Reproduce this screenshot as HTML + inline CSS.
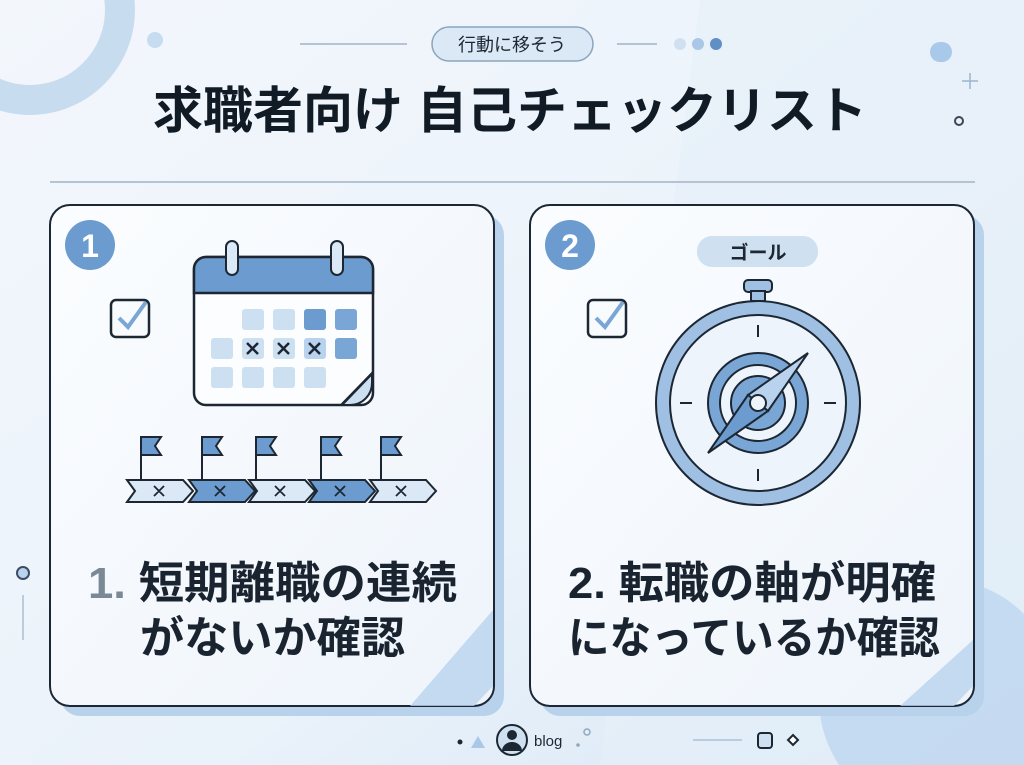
<!DOCTYPE html>
<html><head><meta charset="utf-8"><style>
html,body{margin:0;padding:0;width:1024px;height:765px;overflow:hidden}
svg{display:block}
svg text{font-family:"Liberation Sans","Noto Sans CJK JP",sans-serif}
</style></head><body>
<svg width="1024" height="765" viewBox="0 0 1024 765" xmlns="http://www.w3.org/2000/svg">
<defs>
<linearGradient id="bg" x1="0" y1="0" x2="1" y2="1"><stop offset="0" stop-color="#f3f7fc"/><stop offset="0.6" stop-color="#eaf2fa"/><stop offset="1" stop-color="#d6e6f5"/></linearGradient>
<linearGradient id="card" x1="0" y1="0" x2="1" y2="1"><stop offset="0" stop-color="#fbfdff"/><stop offset="1" stop-color="#eef4fb"/></linearGradient>
</defs>
<rect width="1024" height="765" fill="url(#bg)"/>
<polygon points="700,0 1024,0 1024,765 600,765" fill="#e6f0f9" opacity="0.6"/>
<path d="M134.5 0A105 105 0 0 1 0 110.6L0 78.7A75 75 0 0 0 104.3 0Z" fill="#c8dcf0"/>
<path d="M839 765A120 120 0 0 1 1024 614L1024 765Z" fill="#b9d3ee" opacity="0.7"/>
<circle cx="155" cy="40" r="8" fill="#c6dcf0"/>
<rect x="930" y="42" width="22" height="20" rx="10" fill="#a9c9ea"/>
<path d="M970 73v16M962 81h16" stroke="#9bb6d0" stroke-width="1.5"/>
<circle cx="959" cy="121" r="4" fill="none" stroke="#3a4756" stroke-width="2"/>
<line x1="300" y1="44" x2="407" y2="44" stroke="#9fb4c8" stroke-width="1.5"/>
<line x1="617" y1="44" x2="657" y2="44" stroke="#9fb4c8" stroke-width="1.5"/>
<rect x="432" y="27" width="161" height="34" rx="17" fill="#dbe8f5" stroke="#8aa5c0" stroke-width="1.5"/>
<text x="512" y="51" font-size="18" text-anchor="middle" fill="#1d2733">行動に移そう</text>
<circle cx="680" cy="44" r="6" fill="#cfe0f1"/><circle cx="698" cy="44" r="6" fill="#a9c7e6"/><circle cx="716" cy="44" r="6" fill="#5f8fc4"/>
<text x="510" y="128" font-size="50" font-weight="bold" text-anchor="middle" fill="#111b26">求職者向け 自己チェックリスト</text>
<line x1="50" y1="182" x2="975" y2="182" stroke="#b4c4d3" stroke-width="2"/>
<circle cx="23" cy="573" r="6" fill="#b9d3ee" stroke="#3a4d63" stroke-width="2"/>
<line x1="23" y1="595" x2="23" y2="640" stroke="#b9cde0" stroke-width="2"/>
<rect x="60" y="215" width="444" height="501" rx="20" fill="#b8d2ec"/>
<rect x="540" y="215" width="444" height="501" rx="20" fill="#b8d2ec"/>
<rect x="50" y="205" width="444" height="501" rx="20" fill="url(#card)" stroke="#1c2733" stroke-width="2"/>
<rect x="530" y="205" width="444" height="501" rx="20" fill="url(#card)" stroke="#1c2733" stroke-width="2"/>
<polygon points="493,610 493,686 474,706 410,706" fill="#b9d3ee" opacity="0.8"/>
<polygon points="973,640 973,686 954,706 900,706" fill="#b9d3ee" opacity="0.8"/>
<circle cx="90" cy="245" r="25" fill="#6c9ccf"/><text x="90" y="257" font-size="32" font-weight="bold" fill="#fff" text-anchor="middle">1</text>
<circle cx="570" cy="245" r="25" fill="#6c9ccf"/><text x="570" y="257" font-size="32" font-weight="bold" fill="#fff" text-anchor="middle">2</text>
<rect x="111" y="300" width="38" height="37" rx="5" fill="none" stroke="#1c2733" stroke-width="2.5"/>
<path d="M119 318l9 9 18-25" fill="none" stroke="#7aa6d6" stroke-width="4"/>
<rect x="588" y="300" width="38" height="37" rx="5" fill="none" stroke="#1c2733" stroke-width="2.5"/>
<path d="M596 318l9 9 18-25" fill="none" stroke="#7aa6d6" stroke-width="4"/>
<rect x="194" y="257" width="179" height="148" rx="12" fill="#fbfdff" stroke="#1c2733" stroke-width="2.5"/>
<path d="M194 293v-24a12 12 0 0 1 12-12h155a12 12 0 0 1 12 12v24z" fill="#6c9ccf" stroke="#1c2733" stroke-width="2.5"/>
<rect x="226" y="241" width="12" height="34" rx="6" fill="#dbe8f5" stroke="#1c2733" stroke-width="2"/>
<rect x="331" y="241" width="12" height="34" rx="6" fill="#dbe8f5" stroke="#1c2733" stroke-width="2"/>
<g>
<rect x="242" y="309" width="22" height="21" rx="3" fill="#cde0f2"/><rect x="273" y="309" width="22" height="21" rx="3" fill="#cde0f2"/><rect x="304" y="309" width="22" height="21" rx="3" fill="#6c9ccf"/><rect x="335" y="309" width="22" height="21" rx="3" fill="#7aa6d6"/>
<rect x="211" y="338" width="22" height="21" rx="3" fill="#cde0f2"/><rect x="242" y="338" width="22" height="21" rx="3" fill="#cde0f2"/><rect x="273" y="338" width="22" height="21" rx="3" fill="#cde0f2"/><rect x="304" y="338" width="22" height="21" rx="3" fill="#b9d3ee"/><rect x="335" y="338" width="22" height="21" rx="3" fill="#7aa6d6"/>
<rect x="211" y="367" width="22" height="21" rx="3" fill="#cde0f2"/><rect x="242" y="367" width="22" height="21" rx="3" fill="#cde0f2"/><rect x="273" y="367" width="22" height="21" rx="3" fill="#cde0f2"/><rect x="304" y="367" width="22" height="21" rx="3" fill="#cde0f2"/>
<path d="M247 343l11 11M258 343l-11 11M278 343l11 11M289 343l-11 11M309 343l11 11M320 343l-11 11" stroke="#1c2733" stroke-width="2.5"/>
</g>
<path d="M341 405l31-32v10a22 22 0 0 1-22 22z" fill="#cde0f2" stroke="#1c2733" stroke-width="2"/>
<line x1="343" y1="404" x2="371" y2="375" stroke="#1c2733" stroke-width="2"/>
<g stroke="#1c2733" stroke-width="2">
<g id="f"><line x1="141" y1="437" x2="141" y2="480"/><path d="M141 437h20l-6 9 6 9h-20z" fill="#6c9ccf"/></g>
<use href="#f" x="61"/><use href="#f" x="115"/><use href="#f" x="180"/><use href="#f" x="240"/>
<path d="M127 480h56l10 11-10 11h-56l8-11z" fill="#dbe8f5"/>
<path d="M189 480h56l10 11-10 11h-56l8-11z" fill="#6c9ccf"/>
<path d="M249 480h56l10 11-10 11h-56l8-11z" fill="#dbe8f5"/>
<path d="M309 480h56l10 11-10 11h-56l8-11z" fill="#6c9ccf"/>
<path d="M370 480h56l10 11-10 11h-56l8-11z" fill="#dbe8f5"/>
<path d="M154 486l10 10M164 486l-10 10M215 486l10 10M225 486l-10 10M275 486l10 10M285 486l-10 10M335 486l10 10M345 486l-10 10M396 486l10 10M406 486l-10 10" stroke-width="1.8"/>
</g>
<rect x="697" y="236" width="121" height="31" rx="15" fill="#cfe0f1"/>
<text x="758" y="259" font-size="19" font-weight="bold" text-anchor="middle" fill="#1d2733">ゴール</text>
<g stroke="#1c2733" stroke-width="2">
<rect x="744" y="280" width="28" height="12" rx="4" fill="#9fc0e3"/>
<rect x="751" y="291" width="14" height="10" fill="#9fc0e3"/>
<circle cx="758" cy="403" r="102" fill="#9fc0e3"/>
<circle cx="758" cy="403" r="88" fill="#eef4fb"/>
<circle cx="758" cy="403" r="50" fill="#7aa6d6"/>
<circle cx="758" cy="403" r="38" fill="#eef4fb"/>
<circle cx="758" cy="403" r="27" fill="#7aa6d6"/>
<path d="M758 325v12M758 469v12M680 403h12M824 403h12"/>
<path d="M808 353l-40 58-20-16z" fill="#b9d3ee"/>
<path d="M708 453l40-58 20 16z" fill="#6c9ccf"/>
<circle cx="758" cy="403" r="8" fill="#eef4fb"/>
</g>
<text x="88" y="598" font-size="44" font-weight="bold" fill="#1a2430" textLength="369" lengthAdjust="spacingAndGlyphs"><tspan fill="#7b8896">1.</tspan> 短期離職の連続</text>
<text x="140" y="653" font-size="44" font-weight="bold" fill="#1a2430" textLength="265" lengthAdjust="spacingAndGlyphs">がないか確認</text>
<text x="568" y="598" font-size="44" font-weight="bold" fill="#1a2430" textLength="368" lengthAdjust="spacingAndGlyphs">2. 転職の軸が明確</text>
<text x="568" y="653" font-size="44" font-weight="bold" fill="#1a2430" textLength="372" lengthAdjust="spacingAndGlyphs">になっているか確認</text>
<circle cx="460" cy="742" r="2.5" fill="#1c2733"/>
<polygon points="478,736 471,748 485,748" fill="#a9c7e6"/>
<circle cx="512" cy="740" r="15" fill="#cfe0f1" stroke="#1c2733" stroke-width="2"/>
<circle cx="512" cy="735" r="5" fill="#1c2733"/>
<path d="M502 751a10 9 0 0 1 20 0z" fill="#1c2733"/>
<text x="534" y="746" font-size="15" fill="#1c2733">blog</text>
<circle cx="578" cy="745" r="1.8" fill="#8fa8c0"/><circle cx="587" cy="732" r="3" fill="none" stroke="#8fa8c0" stroke-width="1.5"/>
<line x1="693" y1="740" x2="742" y2="740" stroke="#a9c2da" stroke-width="1.5"/>
<rect x="758" y="733" width="14" height="15" rx="3" fill="#cfe0f1" stroke="#1c2733" stroke-width="2"/>
<path d="M793 735l5 5-5 5-5-5z" fill="#fff" stroke="#1c2733" stroke-width="2"/>
</svg>
</body></html>
